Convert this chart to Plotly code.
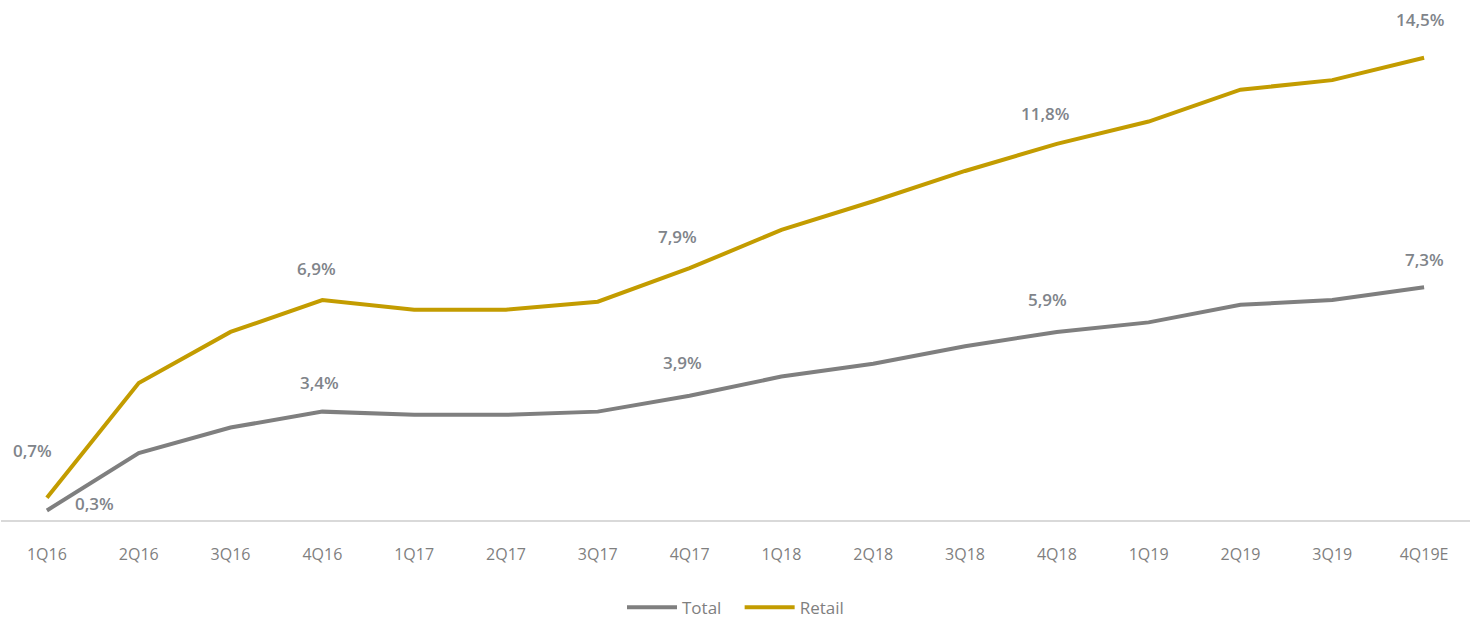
import plotly.graph_objects as go

quarters = ["1Q16", "2Q16", "3Q16", "4Q16", "1Q17", "2Q17", "3Q17", "4Q17",
            "1Q18", "2Q18", "3Q18", "4Q18", "1Q19", "2Q19", "3Q19", "4Q19E"]
total = [0.3, 2.1, 2.9, 3.4, 3.3, 3.3, 3.4, 3.9,
         4.5, 4.9, 5.45, 5.9, 6.2, 6.75, 6.9, 7.3]
retail = [0.7, 4.3, 5.9, 6.9, 6.6, 6.6, 6.85, 7.9,
          9.1, 10.0, 10.95, 11.8, 12.5, 13.5, 13.8, 14.5]

# quarters that carry a value label, with label offsets in pixels (dx, dy)
retail_labels = {0: (-14, 47), 3: (-6, 32), 7: (-12, 32), 11: (-12, 30), 15: (-4, 38)}
total_labels = {0: (48, 7), 3: (-3, 29), 7: (-7, 33), 11: (-9, 32), 15: (0, 28)}

GRAY = "#7f7f7f"
GOLD = "#c39c00"
LABEL = "#80848a"

fig = go.Figure()
fig.add_trace(go.Scatter(x=quarters, y=total, mode="lines", name="Total   ",
                         line=dict(color=GRAY, width=4)))
fig.add_trace(go.Scatter(x=quarters, y=retail, mode="lines", name="Retail",
                         line=dict(color=GOLD, width=4)))


def fmt(v):
    return f"{v:.1f}".replace(".", ",") + "%"


for series, labels in ((retail, retail_labels), (total, total_labels)):
    for i, (dx, dy) in labels.items():
        fig.add_annotation(x=quarters[i], y=series[i], text=fmt(series[i]),
                           showarrow=False, xshift=dx, yshift=dy,
                           font=dict(family="Open Sans", size=17, color=LABEL,
                                     weight=600))

fig.update_layout(
    width=1477, height=623,
    margin=dict(l=1, r=7, t=10, b=103, autoexpand=False),
    paper_bgcolor="white", plot_bgcolor="white",
    font=dict(family="Open Sans", color=GRAY),
    showlegend=True,
    legend=dict(orientation="h", x=0.5, xanchor="center", y=-0.172, yanchor="middle",
                font=dict(size=17, color=GRAY), itemwidth=50, tracegroupgap=0),
    xaxis=dict(type="category", range=[-0.5, 15.5], showgrid=False,
               showline=True, linecolor="#d9d9d9", linewidth=1.5,
               ticks="", tickfont=dict(size=16, color=GRAY), ticklabelstandoff=19),
    yaxis=dict(range=[0, 16], showgrid=False, showticklabels=False,
               zeroline=False, showline=False),
)

fig.write_html("out.html")
